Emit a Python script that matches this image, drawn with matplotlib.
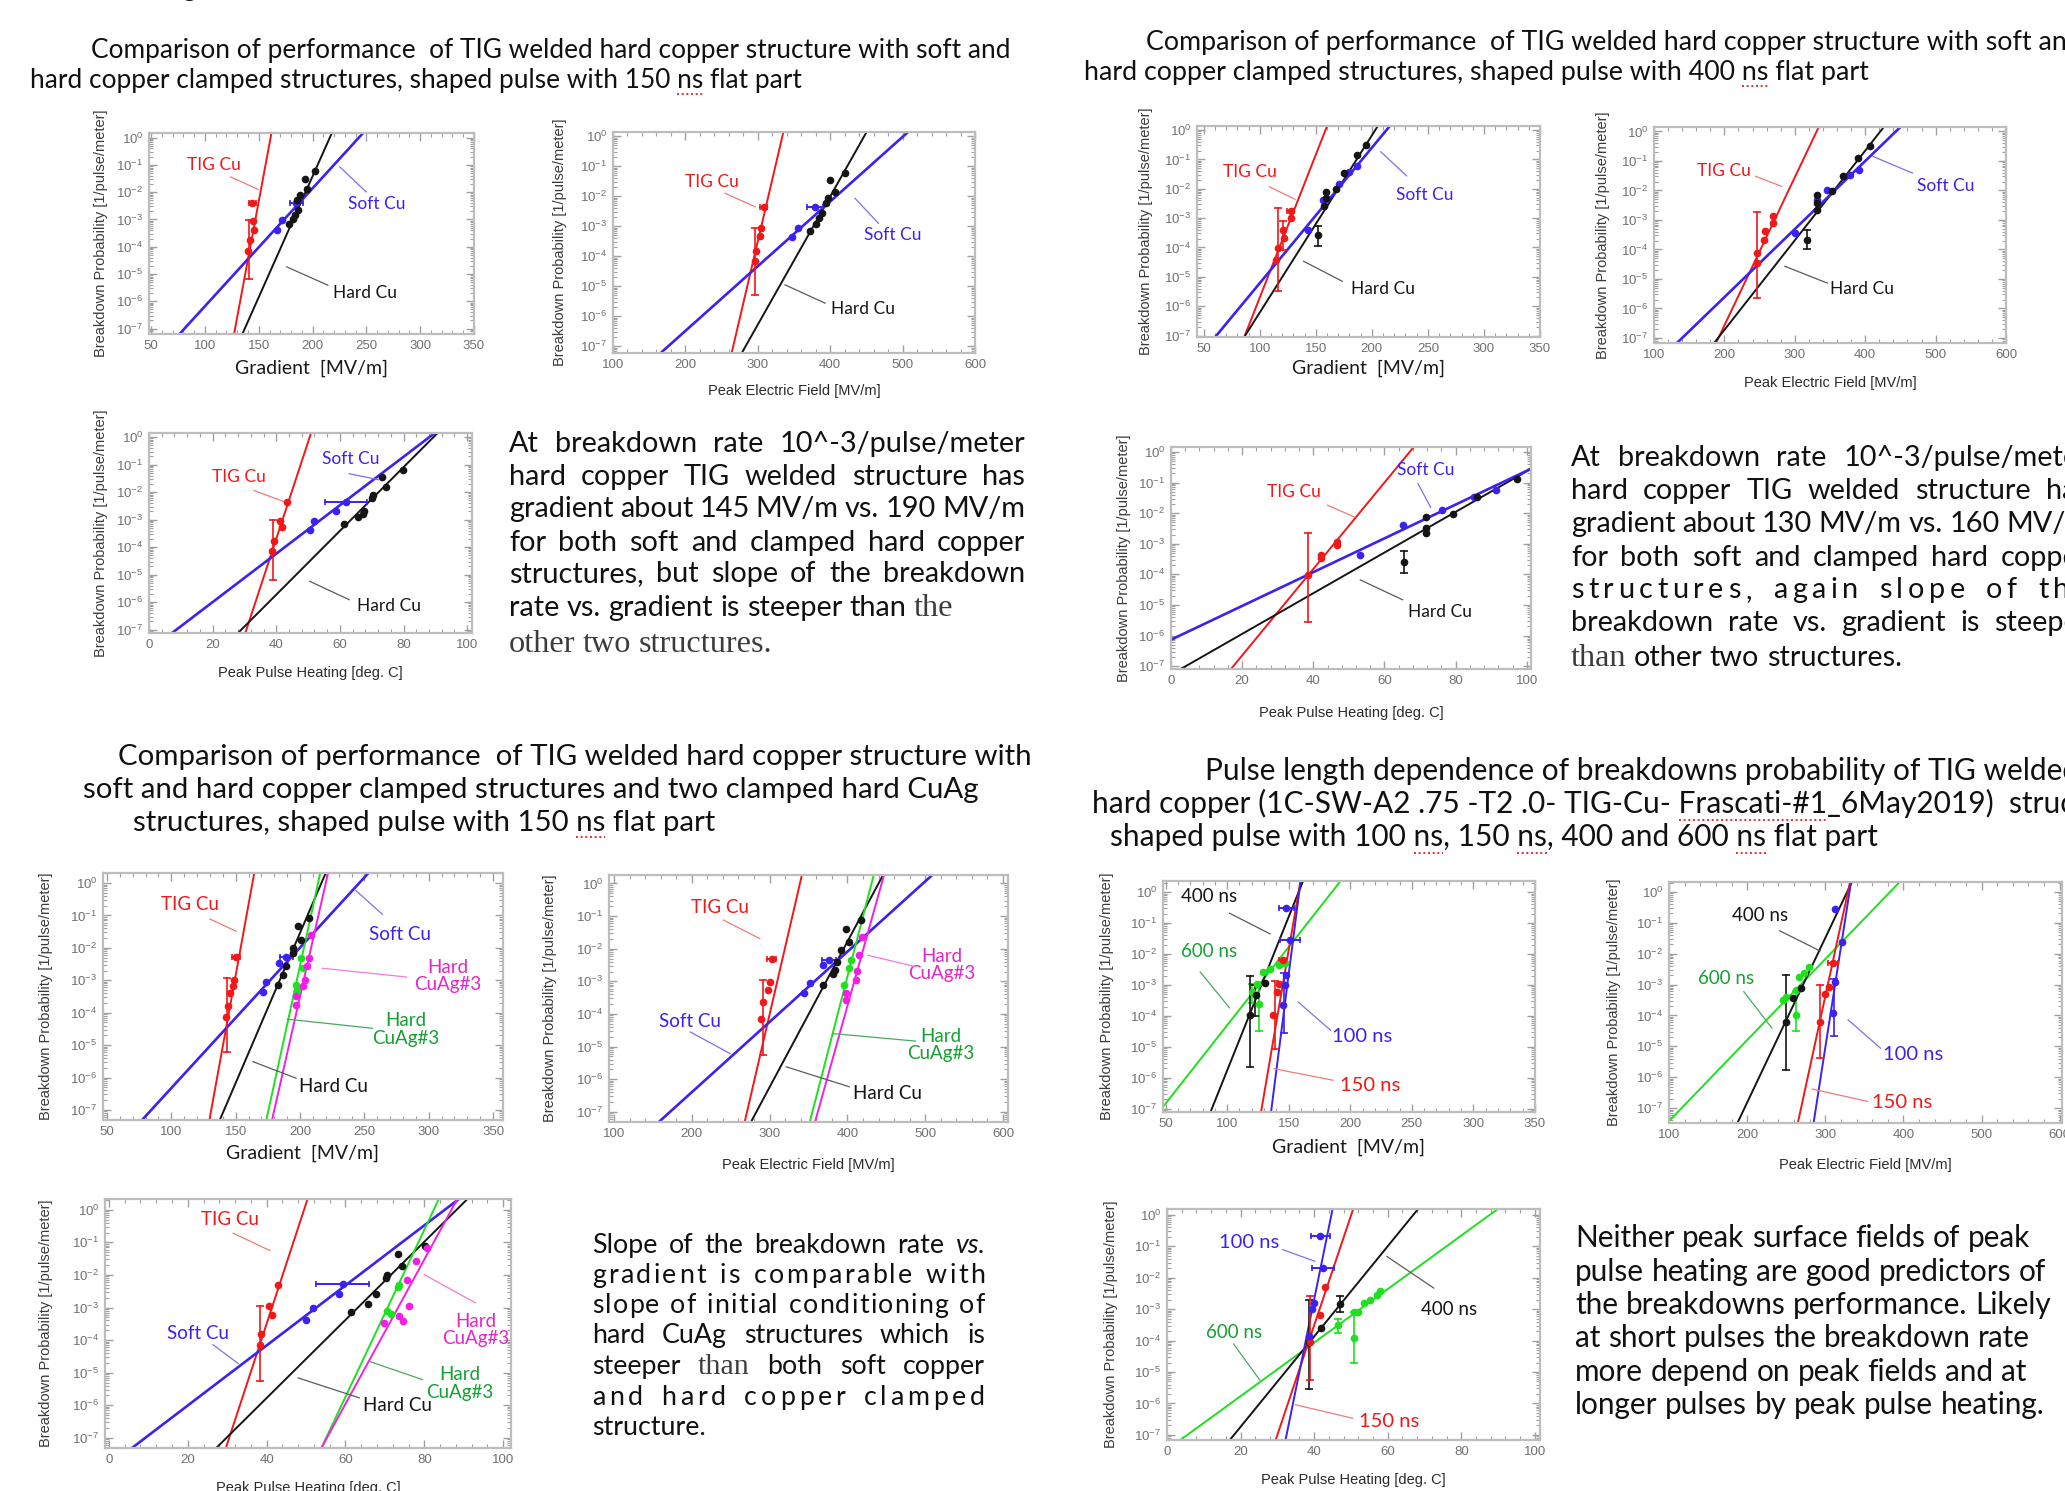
import numpy as np
import matplotlib
matplotlib.use("Agg")
import matplotlib.pyplot as plt
from matplotlib.lines import Line2D
from matplotlib.ticker import AutoMinorLocator, FixedLocator, LogLocator, NullFormatter

W, H = 2065, 1491
SANS = "Lato"
AXF = "Liberation Sans"
SERIF = "Liberation Serif"

RED, BLUE, BLACK = "#f01818", "#3b22f0", "#151515"
GREEN, GREEN_T = "#1ee01e", "#14a032"
MAG, MAG_T = "#f41ee6", "#e326c8"
LEAD = {RED: "#f07a7a", BLUE: "#7d70f0", BLACK: "#5a5a5a", GREEN_T: "#4aa860", MAG_T: "#f07ae0"}

# ------------------------------------------------------------------ data
# fit lines: (x where rate = 1e-7, x where rate = 1e0)
# points: x and log10(rate); ey = vertical bars (x, lo, hi); ex = horizontal bars (x, y, half width)

# 150 ns flat part
g150_fit = {"tig": (128, 161), "hard": (137, 216), "soft": (81, 243)}
g150_tig = dict(x=[144, 145, 146, 142, 140], y=[-2.38, -3.05, -3.37, -3.76, -4.15],
                ey=[(141, -3.03, -5.2)], ex=[(144, -2.38, 3)])
g150_soft = dict(x=[185, 172, 167], y=[-2.38, -3.03, -3.4], ex=[(185, -2.38, 6)])
g150_hard = dict(x=[202.5, 192.7, 194.5, 188.4, 185.3, 186.5, 184, 182.2, 177.9],
                 y=[-1.23, -1.5, -1.87, -2.11, -2.3, -2.66, -2.84, -3.0, -3.17])

e150_fit = {"tig": (266, 334), "hard": (283, 447), "soft": (176, 501)}
e150_tig = dict(x=[308, 305, 303, 298, 296], y=[-2.35, -3.07, -3.34, -3.81, -4.17],
                ey=[(296, -3.07, -5.28)], ex=[(308, -2.35, 5)])
e150_soft = dict(x=[379, 356, 347], y=[-2.37, -3.07, -3.37], ex=[(379, -2.37, 11)])
e150_hard = dict(x=[420, 400, 406, 397, 394, 388, 385, 381, 372],
                 y=[-1.22, -1.46, -1.85, -2.07, -2.24, -2.57, -2.74, -2.92, -3.15])

h150_fit = {"tig": (30.6, 50.5), "hard": (29, 89.4), "soft": (8.6, 88.1)}
h150_tig = dict(x=[43.3, 41.3, 41.8, 39.2, 38.8], y=[-2.34, -3.06, -3.28, -3.79, -4.15],
                ey=[(39, -3.03, -5.18)])
h150_soft = dict(x=[61.9, 58.8, 52, 50.5], y=[-2.34, -2.68, -3.06, -3.37], ex=[(61.9, -2.34, 6.7)])
h150_hard = dict(x=[79.9, 73.2, 74.6, 70.5, 70.1, 67.6, 67.4, 65.6, 61.4],
                 y=[-1.21, -1.46, -1.82, -2.09, -2.22, -2.70, -2.78, -2.91, -3.15])

# 400 ns flat part
g400_fit = {"tig": (86.7, 158.6), "hard": (87, 203), "soft": (61.3, 213)}
g400_tig = dict(x=[127.6, 127.6, 120.7, 121.8, 116, 114.4], y=[-2.77, -3.0, -3.4, -3.68, -4.02, -4.42],
                ey=[(116, -2.66, -5.49), (121, -3.1, -4.1)], ex=[(127.6, -2.77, 3)])
g400_soft = dict(x=[186.8, 179.3, 170.7, 156.3, 143.1], y=[-1.21, -1.42, -1.83, -2.38, -3.4])
g400_hard = dict(x=[194.8, 186.8, 175.3, 167.8, 159.2, 159.2, 157.5, 151.7],
                 y=[-0.51, -0.85, -1.47, -2.0, -2.1, -2.32, -2.6, -3.59], ey=[(151.7, -3.28, -3.96)])

e400_fit = {"tig": (191.5, 331), "hard": (191, 421.5), "soft": (140, 443.5)}
e400_tig = dict(x=[269, 269, 258, 256, 247, 247], y=[-2.86, -3.1, -3.39, -3.67, -4.12, -4.45],
                ey=[(247, -2.72, -5.66)])
e400_soft = dict(x=[391, 379, 346, 332, 300], y=[-1.30, -1.47, -1.98, -2.31, -3.44])
e400_hard = dict(x=[407, 390, 368, 353, 332, 332, 332, 318],
                 y=[-0.51, -0.9, -1.52, -2.03, -2.14, -2.43, -2.67, -3.67], ey=[(318, -3.33, -4.0)])

h400_fit = {"tig": (17.5, 67.1), "hard": (4.1, 109.5), "soft": (-15.7, 111.2)}
h400_tig = dict(x=[46.8, 46.8, 42.2, 42.2, 38.5], y=[-2.93, -3.04, -3.37, -3.48, -4.02],
                ey=[(38.5, -2.66, -5.54)])
h400_soft = dict(x=[91.4, 85.3, 76.2, 65.1, 53.2], y=[-1.25, -1.47, -1.9, -2.39, -3.37])
h400_hard = dict(x=[97.3, 85.9, 79.3, 71.6, 71.6, 71.6, 65.5],
                 y=[-0.87, -1.47, -2.03, -2.12, -2.5, -2.66, -3.6], ey=[(65.5, -3.25, -3.96)])

# 150 ns flat part with the CuAg structures
g3_fit = {"tig": (131, 163), "hard": (141, 216.6), "soft": (84.4, 246), "agg": (175.5, 214), "agm": (180, 220)}
g3_tig = dict(x=[150.5, 149, 148, 145.4, 144.3, 142.8], y=[-2.29, -2.99, -3.19, -3.40, -3.78, -4.12],
              ey=[(143, -2.94, -5.2)], ex=[(150.5, -2.29, 3)])
g3_soft = dict(x=[189.2, 184, 173.7, 171], y=[-2.29, -2.47, -3.06, -3.35], ex=[(189.2, -2.29, 5)])
g3_hard = dict(x=[207.2, 198.5, 200.5, 194.3, 194.3, 189.2, 187.1, 183],
               y=[-1.08, -1.34, -1.75, -2.01, -2.16, -2.57, -2.83, -3.14])
g3_agg = dict(x=[200.5, 202, 196.9, 198], y=[-2.32, -2.63, -3.14, -3.3])
g3_agm = dict(x=[208.8, 207.2, 205.7, 203.6, 202, 196.9, 196.9], y=[-1.6, -2.32, -2.57, -2.99, -3.19, -3.5, -3.76])

e3_fit = {"tig": (271, 339), "hard": (283, 440), "soft": (172, 497), "agg": (355, 431), "agm": (362, 444)}
e3_tig = dict(x=[302.7, 300.2, 298.5, 291.7, 289.1], y=[-2.30, -3.01, -3.25, -3.63, -4.14],
              ey=[(292, -2.96, -5.26)], ex=[(302.7, -2.30, 6)])
e3_soft = dict(x=[376.8, 368.3, 351.3, 344.5], y=[-2.33, -2.5, -3.06, -3.37], ex=[(376.8, -2.33, 9)])
e3_hard = dict(x=[417.7, 398.1, 402.4, 392.2, 387.1, 383.6, 381, 368.3],
               y=[-1.12, -1.41, -1.79, -2.04, -2.4, -2.64, -2.76, -3.12])
e3_agg = dict(x=[404, 402.4, 395.6], y=[-2.33, -2.6, -3.12])
e3_agm = dict(x=[419.4, 415.2, 412.6, 410.9, 398.1, 398.1], y=[-1.63, -2.2, -2.68, -2.96, -3.37, -3.58])

h3_fit = {"tig": (30.5, 49.5), "hard": (29.8, 88.2), "soft": (9.2, 85.2), "agg": (55.1, 82.4), "agm": (55.3, 86.9)}
h3_tig = dict(x=[42.8, 40.7, 41.3, 38.6, 38.2], y=[-2.30, -2.96, -3.22, -3.80, -4.14], ey=[(38.2, -2.94, -5.26)])
h3_soft = dict(x=[59.3, 58.4, 51.7, 50], y=[-2.27, -2.6, -3.01, -3.37], ex=[(59.3, -2.27, 6.7)])
h3_hard = dict(x=[80.3, 73.3, 74.4, 70.6, 70.3, 67.7, 65.7, 61.3],
               y=[-1.10, -1.35, -1.74, -2.01, -2.09, -2.6, -2.88, -3.14])
h3_agg = dict(x=[73.6, 73.3, 70.6, 71.6], y=[-2.30, -2.36, -3.12, -3.19])
h3_agm = dict(x=[80.7, 77.8, 75.6, 76.1, 73.6, 69.9, 74.5], y=[-1.16, -1.58, -2.14, -2.96, -3.27, -3.47, -3.42])

# pulse length dependence, TIG welded structure
g4_fit = {"n600": (46.8, 185), "n400": (87.6, 158), "n150": (128, 158), "n100": (136, 158.5)}
g4_n100 = dict(x=[148.1, 150.8, 147.6, 146.6, 145.5], y=[-0.52, -1.56, -2.69, -3.01, -3.66],
               ey=[(146, -2.62, -4.56)], ex=[(148.1, -0.52, 6), (150.8, -1.56, 8)])
g4_n150 = dict(x=[145.5, 142.4, 140.2, 137.1], y=[-2.19, -2.96, -3.23, -3.98],
               ey=[(139, -2.88, -5.08)], ex=[(145.5, -2.19, 3)])
g4_n400 = dict(x=[131.1, 123.1, 118.9], y=[-2.94, -3.34, -3.98], ey=[(118.9, -2.7, -5.65), (123, -3.0, -4.0)])
g4_n600 = dict(x=[147, 141.7, 134.5, 129.2, 124.2, 120.5, 125.8], y=[-2.29, -2.35, -2.48, -2.59, -2.96, -3.23, -3.61],
               ey=[(126, -3.0, -4.5), (120.5, -2.96, -3.6)])

e4_fit = {"n600": (116, 383), "n400": (196.6, 328), "n150": (269, 329), "n100": (288, 331)}
e4_n100 = dict(x=[312.5, 320.8, 312.5, 310], y=[-0.57, -1.61, -2.91, -3.93], ey=[(311, -2.83, -4.66)])
e4_n150 = dict(x=[310, 304.2, 300, 293.3], y=[-2.31, -3.07, -3.29, -4.20],
               ey=[(293, -3.02, -5.39)], ex=[(310, -2.31, 6)])
e4_n400 = dict(x=[269.2, 258.3, 250], y=[-3.12, -3.44, -4.20], ey=[(250, -2.69, -5.76)])
e4_n600 = dict(x=[279.2, 273, 266.7, 262.5, 250, 245.8, 262.5], y=[-2.44, -2.64, -2.77, -3.18, -3.39, -3.5, -3.98],
               ey=[(262.5, -3.2, -4.5)])

h4_fit = {"n600": (5.5, 87.8), "n400": (18.2, 67), "n150": (30, 50.1), "n100": (32.5, 44.7)}
h4_n100 = dict(x=[41.7, 42.4, 39.9, 39.4, 38.5], y=[-0.67, -1.70, -2.81, -3.0, -3.85],
               ex=[(41.7, -0.67, 2.5), (42.4, -1.70, 3)])
h4_n150 = dict(x=[42.9, 41.7, 38.8], y=[-2.31, -3.18, -4.06], ey=[(38.8, -2.60, -5.25)])
h4_n400 = dict(x=[47, 42, 38.5], y=[-2.83, -3.61, -4.06], ey=[(38.5, -2.71, -5.55), (47, -2.6, -3.1)])
h4_n600 = dict(x=[58, 57.1, 55.3, 53.5, 51.8, 50.9, 46.5, 50.9], y=[-2.44, -2.54, -2.70, -2.81, -3.08, -3.08, -3.5, -3.92],
               ey=[(50.9, -3.08, -4.71), (46.5, -3.3, -3.75)])

# texts
title_150 = ["Comparison of performance  of TIG welded hard copper structure with soft and",
             "hard copper clamped structures, shaped pulse with 150 ns flat part"]
title_400 = ["Comparison of performance  of TIG welded hard copper structure with soft and",
             "hard copper clamped structures, shaped pulse with 400 ns flat part"]
title_cuag = ["Comparison of performance  of TIG welded hard copper structure with",
              "soft and hard copper clamped structures and two clamped hard CuAg",
              "structures, shaped pulse with 150 ns flat part"]
title_pulse = ["Pulse length dependence of breakdowns probability of TIG welded",
               "hard copper (1C-SW-A2 .75 -T2 .0- TIG-Cu- Frascati-#1_6May2019)  structure",
               "shaped pulse with 100 ns, 150 ns, 400 and 600 ns flat part"]

note_150 = ["At breakdown rate 10^-3/pulse/meter",
            "hard copper TIG welded structure has",
            "gradient about 145 MV/m vs. 190 MV/m",
            "for both soft and clamped hard copper",
            "structures, but slope of the breakdown",
            "rate vs. gradient is steeper than *the*",
            "*other* *two* *structures.*"]
note_400 = ["At breakdown rate 10^-3/pulse/meter",
            "hard copper TIG welded structure has",
            "gradient about 130 MV/m vs. 160 MV/m",
            "for both soft and clamped hard copper",
            "structures, again slope of the",
            "breakdown rate vs. gradient is steeper",
            "*than* other two structures."]
note_cuag = ["Slope of the breakdown rate _vs._",
             "gradient is comparable with",
             "slope of initial conditioning of",
             "hard CuAg structures which is",
             "steeper *than* both soft copper",
             "and hard copper clamped",
             "structure."]
note_pulse = ["Neither peak surface fields of peak",
              "pulse heating  are good predictors of",
              "the breakdowns performance. Likely",
              "at short pulses the breakdown rate",
              "more depend on peak fields and at",
              "longer pulses by peak pulse heating."]

# ------------------------------------------------------------------ figure
plt.rcParams["font.family"] = AXF
fig = plt.figure(figsize=(W / 100, H / 100), dpi=100)
fig.patch.set_facecolor("white")
R = fig.canvas.get_renderer()


def measure(s, size, family=SANS, style="normal"):
    t = fig.text(0, 0, s, fontsize=size, family=family, style=style)
    w = t.get_window_extent(renderer=R).width
    t.remove()
    return w


def advance(s, size, family=SANS, style="normal"):
    return measure("H" + s + "H", size, family, style) - measure("HH", size, family, style)


def fit_size(s, width, family=SANS):
    return 20 * width / measure(s, 20, family)


def title(lines, xs, ys, sizes, marks):
    for s, x, y, size in zip(lines, xs, ys, sizes):
        px = size * 100 / 72
        fig.text(x / W, 1 - (y + 0.3 * px) / H, s, fontsize=size, family=SANS,
                 color="#111111", va="baseline", ha="left")
    # red dotted spell-check marks
    for li, word in marks:
        s, size = lines[li], sizes[li]
        px = size * 100 / 72
        i = 0
        while True:
            i = s.find(word, i)
            if i < 0:
                break
            end = i + len(word)
            whole = (i == 0 or s[i - 1] == " ") and (end == len(s) or not s[end].isalpha())
            if whole:
                ww = measure(word, size)
                xa = xs[li] + measure(s[:end], size) - ww
                yy = 1 - (ys[li] + 0.52 * px) / H
                fig.add_artist(Line2D([xa / W, (xa + ww) / W], [yy, yy], transform=fig.transFigure,
                                      color="#e03030", lw=1.4, ls=(0, (1, 1.4))))
            i = end


def paragraph(lines, x0, x1, ys, size, modes):
    px = size * 100 / 72
    sp = advance(" ", size)
    for line, y, mode in zip(lines, ys, modes):
        items = []
        for w in line.split():
            fam, style, sc, col = SANS, "normal", 1.0, "#111111"
            if w.startswith("*"):
                w, fam, sc, col = w.strip("*"), SERIF, 1.12, "#3c3c3c"
            elif w.startswith("_"):
                w, style = w.strip("_"), "italic"
            items.append((w, fam, style, size * sc, col))
        advs = [advance(w, s, f, st) for w, f, st, s, c in items]
        extra = 0.0
        gap = sp
        if mode == "j" and len(items) > 1:
            gap = max((x1 - x0 - sum(advs)) / (len(items) - 1), 0.55 * sp)
        elif mode == "l":
            slots = sum(len(it[0]) - 1 for it in items) + 3 * (len(items) - 1)
            extra = (x1 - x0 - sum(advs) - sp * (len(items) - 1)) / slots
            gap = sp + 3 * extra
        base = 1 - (y + 0.3 * px) / H
        x = x0
        for (w, f, st, s, c), a in zip(items, advs):
            if extra == 0:
                fig.text(x / W, base, w, fontsize=s, family=f, style=st, color=c, va="baseline")
                x += a + gap
            else:
                for ch in w:
                    fig.text(x / W, base, ch, fontsize=s, family=f, style=st, color=c, va="baseline")
                    x += advance(ch, s, f, st) + extra
                x += gap - extra


def panel(box, xlim, yexp, xticks, xlabel, ylab_x, xlab_y, big):
    l, t, r, b = box
    ax = fig.add_axes([l / W, 1 - b / H, (r - l) / W, (b - t) / H])
    ax.set_yscale("log")
    ax.set_xlim(xlim)
    ax.set_ylim(10.0 ** yexp[0], 10.0 ** yexp[1])
    ax.set_xticks(xticks)
    ax.xaxis.set_minor_locator(AutoMinorLocator(5))
    ax.yaxis.set_major_locator(FixedLocator([10.0 ** k for k in range(-7, 1)]))
    ax.yaxis.set_minor_locator(LogLocator(base=10, subs=np.arange(2, 10), numticks=30))
    ax.yaxis.set_minor_formatter(NullFormatter())
    ax.tick_params(which="both", direction="in", top=True, right=True, color="#a0a0a0",
                   labelcolor="#707070", labelsize=9.5, pad=4)
    ax.tick_params(which="major", length=6, width=1)
    ax.tick_params(which="minor", length=3, width=0.8)
    for s in ax.spines.values():
        s.set_color("#bdbdbd")
        s.set_linewidth(1.6)
    if big:
        ax.set_xlabel(xlabel, fontsize=14, family=SANS, color="#1a1a1a")
    else:
        ax.set_xlabel(xlabel, fontsize=10.5, family=AXF, color="#2a2a2a")
    ax.xaxis.label.set_va("center")
    ax.xaxis.set_label_coords(0.5, -(xlab_y - b) / (b - t))
    ax.set_ylabel("Breakdown Probability [1/pulse/meter]", fontsize=10.5, family=AXF, color="#3a3a3a")
    ax.yaxis.label.set_va("center")
    ax.yaxis.set_label_coords(-(l - ylab_x) / (r - l), 0.5)
    return ax


def fit(ax, f, color, lw=1.4):
    x7, x0 = f
    xs = np.array(ax.get_xlim())
    e = -7 + 7 * (xs - x7) / (x0 - x7)
    ax.plot(xs, 10.0 ** e, color=color, lw=lw, zorder=2)


def dots(ax, s, color):
    for x, lo, hi in s.get("ey", []):
        ax.plot([x, x], [10.0 ** lo, 10.0 ** hi], color=color, lw=1.2, marker="_", ms=6, mew=1.2, zorder=3)
    for x, y, dx in s.get("ex", []):
        ax.plot([x - dx, x + dx], [10.0 ** y] * 2, color=color, lw=1.4, marker="|", ms=5, mew=1.2, zorder=3)
    ax.plot(s["x"], 10.0 ** np.array(s["y"]), "o", color=color, ms=4.5, zorder=4)


def tag(ax, s, pos, lead, color, size=12.5):
    ax.text(pos[0], 10.0 ** pos[1], s, color=color, fontsize=size, family=SANS,
            ha="center", va="center", linespacing=1.05, zorder=5)
    (x1, y1), (x2, y2) = lead
    ax.plot([x1, x2], [10.0 ** y1, 10.0 ** y2], color=LEAD[color], lw=0.9, zorder=5)


GRAD_T = range(50, 351, 50)
FIELD_T = range(100, 601, 100)
HEAT_T = range(0, 101, 20)

# ---------------- quadrant 1 : 150 ns
s1 = fit_size(title_150[0], 917)
title(title_150, [91, 30], [50, 80], [s1, s1], [(1, "ns")])
# descender of a line from the page above, cut by the top edge
fig.text(182 / W, 1 + 4 / H, "g", fontsize=s1, family=SANS, color="#111111", va="baseline")

ax = panel((149, 133, 474, 334), (48, 348), (-7.2, 0.17), GRAD_T, "Gradient  [MV/m]", 101, 368, True)
fit(ax, g150_fit["tig"], RED); fit(ax, g150_fit["hard"], BLACK); fit(ax, g150_fit["soft"], BLUE, 1.9)
dots(ax, g150_tig, RED); dots(ax, g150_soft, BLUE); dots(ax, g150_hard, BLACK)
tag(ax, "TIG Cu", (108, -1.01), [(123.8, -1.44), (149.6, -1.90)], RED)
tag(ax, "Soft Cu", (260, -2.42), [(225.2, -1.07), (249.8, -1.99)], BLUE)
tag(ax, "Hard Cu", (248.6, -5.68), [(176, -4.74), (214.2, -5.41)], BLACK)

ax = panel((613, 132, 975, 353), (100, 600), (-7.22, 0.14), FIELD_T, "Peak Electric Field [MV/m]", 560, 391, False)
fit(ax, e150_fit["tig"], RED); fit(ax, e150_fit["hard"], BLACK); fit(ax, e150_fit["soft"], BLUE, 1.9)
dots(ax, e150_tig, RED); dots(ax, e150_soft, BLUE); dots(ax, e150_hard, BLACK)
tag(ax, "TIG Cu", (236, -1.52), [(254.7, -1.90), (296.2, -2.35)], RED)
tag(ax, "Soft Cu", (487, -3.29), [(434.3, -2.07), (466.6, -2.90)], BLUE)
tag(ax, "Hard Cu", (445, -5.76), [(337.6, -4.95), (392.9, -5.56)], BLACK)

ax = panel((149, 433, 472, 633), (0.9, 101.5), (-7.12, 0.15), HEAT_T, "Peak Pulse Heating [deg. C]", 101, 673, False)
fit(ax, h150_fit["tig"], RED); fit(ax, h150_fit["hard"], BLACK); fit(ax, h150_fit["soft"], BLUE, 1.9)
dots(ax, h150_tig, RED); dots(ax, h150_soft, BLUE); dots(ax, h150_hard, BLACK)
tag(ax, "TIG Cu", (28.2, -1.46), [(33, -1.94), (42.3, -2.34)], RED)
tag(ax, "Soft Cu", (63.5, -0.8), [(62.9, -1.33), (72.2, -1.55)], BLUE)
tag(ax, "Hard Cu", (75.3, -6.15), [(50.5, -5.24), (62.9, -5.91)], BLACK)

size_q1 = 0.5 * (fit_size("rate vs. gradient is steeper than", 413)
                 + fit_size("gradient about 145 MV/m vs. 190 MV/m", 505))
paragraph(note_150, 509, 1025, [443, 476, 508, 542, 573, 607, 643], size_q1, "jjjjj--")

# ---------------- quadrant 2 : 400 ns
s2 = fit_size(title_400[1], 786)
title(title_400, [1146, 1084], [42, 72], [s2, s2], [(1, "ns")])

ax = panel((1197, 126, 1540, 337), (44, 346), (-7.05, 0.14), GRAD_T, "Gradient  [MV/m]", 1146, 368, True)
fit(ax, g400_fit["tig"], RED); fit(ax, g400_fit["hard"], BLACK); fit(ax, g400_fit["soft"], BLUE, 1.9)
dots(ax, g400_tig, RED); dots(ax, g400_soft, BLUE); dots(ax, g400_hard, BLACK)
tag(ax, "TIG Cu", (91.4, -1.42), [(108.6, -1.93), (131.6, -2.36)], RED)
tag(ax, "Soft Cu", (247, -2.21), [(208, -0.74), (231, -1.56)], BLUE)
tag(ax, "Hard Cu", (209.8, -5.41), [(139.1, -4.47), (173.6, -5.15)], BLACK)

ax = panel((1654, 127, 2006, 343), (100, 600), (-7.17, 0.15), FIELD_T, "Peak Electric Field [MV/m]", 1603, 383, False)
fit(ax, e400_fit["tig"], RED); fit(ax, e400_fit["hard"], BLACK); fit(ax, e400_fit["soft"], BLUE, 1.9)
dots(ax, e400_tig, RED); dots(ax, e400_soft, BLUE); dots(ax, e400_hard, BLACK)
tag(ax, "TIG Cu", (199.4, -1.35), [(244, -1.52), (281.2, -1.86)], RED)
tag(ax, "Soft Cu", (515, -1.86), [(411.2, -0.85), (467, -1.41)], BLUE)
tag(ax, "Hard Cu", (395.4, -5.34), [(285.8, -4.57), (346.2, -5.14)], BLACK)

ax = panel((1171, 447, 1531, 669), (0, 101.2), (-7.09, 0.16), HEAT_T, "Peak Pulse Heating [deg. C]", 1124, 713, False)
fit(ax, h400_fit["tig"], RED); fit(ax, h400_fit["hard"], BLACK); fit(ax, h400_fit["soft"], BLUE, 1.9)
dots(ax, h400_tig, RED); dots(ax, h400_soft, BLUE); dots(ax, h400_hard, BLACK)
tag(ax, "TIG Cu", (34.5, -1.32), [(44, -1.74), (51.4, -2.12)], RED)
tag(ax, "Soft Cu", (71.6, -0.6), [(69.4, -1.03), (73, -1.81)], BLUE)
tag(ax, "Hard Cu", (75.6, -5.23), [(53.2, -4.18), (65.1, -4.83)], BLACK)

paragraph(note_400, 1571, 2089, [457, 490, 523, 557, 589, 622, 657], size_q1, "jjjjlj-")

# ---------------- quadrant 3 : CuAg comparison
s3 = fit_size(title_cuag[0], 913)
title(title_cuag, [118, 83, 133], [756, 789, 822], [s3] * 3, [(2, "ns")])

ax = panel((103, 873, 503, 1120), (46.9, 357.7), (-7.31, 0.31), GRAD_T, "Gradient  [MV/m]", 46, 1153, True)
fit(ax, g3_fit["tig"], RED); fit(ax, g3_fit["hard"], BLACK); fit(ax, g3_fit["soft"], BLUE, 1.9)
fit(ax, g3_fit["agg"], GREEN); fit(ax, g3_fit["agm"], MAG)
dots(ax, g3_tig, RED); dots(ax, g3_soft, BLUE); dots(ax, g3_hard, BLACK)
dots(ax, g3_agg, GREEN); dots(ax, g3_agm, MAG)
tag(ax, "TIG Cu", (114.4, -0.65), [(129.9, -1.11), (150.5, -1.49)], RED, 13.5)
tag(ax, "Soft Cu", (277.9, -1.6), [(243.3, -0.23), (263.9, -0.96)], BLUE, 13.5)
tag(ax, "Hard\nCuAg#3", (314.5, -2.87), [(217.5, -2.63), (283, -2.9)], MAG_T, 13.5)
tag(ax, "Hard\nCuAg#3", (282, -4.52), [(190.2, -4.2), (256.2, -4.48)], GREEN_T, 13.5)
tag(ax, "Hard Cu", (226.3, -6.27), [(163.4, -5.51), (196.9, -6.02)], BLACK, 13.5)

ax = panel((609, 875, 1008, 1122), (93.6, 606.4), (-7.31, 0.26), FIELD_T, "Peak Electric Field [MV/m]", 550, 1165, False)
fit(ax, e3_fit["tig"], RED); fit(ax, e3_fit["hard"], BLACK); fit(ax, e3_fit["soft"], BLUE, 1.9)
fit(ax, e3_fit["agg"], GREEN); fit(ax, e3_fit["agm"], MAG)
dots(ax, e3_tig, RED); dots(ax, e3_soft, BLUE); dots(ax, e3_hard, BLACK)
dots(ax, e3_agg, GREEN); dots(ax, e3_agm, MAG)
tag(ax, "TIG Cu", (236.3, -0.75), [(240.5, -1.12), (287.4, -1.69)], RED, 13.5)
tag(ax, "Hard\nCuAg#3", (521.6, -2.5), [(426.2, -2.2), (487.6, -2.55)], MAG_T, 13.5)
tag(ax, "Soft Cu", (198, -4.24), [(198, -4.55), (249.1, -5.21)], BLUE, 13.5)
tag(ax, "Hard\nCuAg#3", (520, -4.95), [(381.1, -4.6), (487.6, -4.83)], GREEN_T, 13.5)
tag(ax, "Hard Cu", (451.8, -6.44), [(321.5, -5.62), (402.4, -6.23)], BLACK, 13.5)

ax = panel((105, 1199, 511, 1448), (-1, 102), (-7.31, 0.33), HEAT_T, "Peak Pulse Heating [deg. C]", 46, 1488, False)
fit(ax, h3_fit["tig"], RED); fit(ax, h3_fit["hard"], BLACK); fit(ax, h3_fit["soft"], BLUE, 1.9)
fit(ax, h3_fit["agg"], GREEN); fit(ax, h3_fit["agm"], MAG)
dots(ax, h3_tig, RED); dots(ax, h3_soft, BLUE); dots(ax, h3_hard, BLACK)
dots(ax, h3_agg, GREEN); dots(ax, h3_agm, MAG)
tag(ax, "TIG Cu", (30.6, -0.29), [(31.5, -0.72), (40.8, -1.25)], RED, 13.5)
tag(ax, "Soft Cu", (22.7, -3.81), [(26.4, -4.14), (32.8, -4.72)], BLUE, 13.5)
tag(ax, "Hard\nCuAg#3", (93, -3.69), [(80, -1.99), (93, -2.86)], MAG_T, 13.5)
tag(ax, "Hard\nCuAg#3", (89.1, -5.34), [(66, -4.65), (79.5, -5.21)], GREEN_T, 13.5)
tag(ax, "Hard Cu", (73.3, -6.01), [(48, -5.16), (63.5, -5.77)], BLACK, 13.5)

size_q3 = fit_size("structure.", 114)
paragraph(note_cuag, 592, 985, [1245, 1275, 1305, 1335, 1366, 1397, 1427], size_q3, "jlljjl-")

# ---------------- quadrant 4 : pulse length dependence
s4 = fit_size(title_pulse[2], 770)
title(title_pulse, [1205, 1092, 1110], [771, 804, 837], [s4] * 3,
      [(1, "Frascati-#1"), (2, "ns")])

ax = panel((1163, 881, 1535, 1112), (47.9, 350), (-7.11, 0.36), GRAD_T, "Gradient  [MV/m]", 1107, 1147, True)
fit(ax, g4_fit["n600"], GREEN); fit(ax, g4_fit["n400"], BLACK)
fit(ax, g4_fit["n150"], RED); fit(ax, g4_fit["n100"], BLUE)
dots(ax, g4_n600, GREEN); dots(ax, g4_n400, BLACK); dots(ax, g4_n150, RED); dots(ax, g4_n100, BLUE)
tag(ax, "400 ns", (85, -0.14), [(101.9, -0.68), (134.8, -1.35)], BLACK, 13.5)
tag(ax, "600 ns", (85, -1.92), [(78.1, -2.58), (101.9, -3.74)], GREEN_T, 13.5)
tag(ax, "100 ns", (209.5, -4.68), [(157.6, -3.55), (184.1, -4.47)], BLUE, 14.5)
tag(ax, "150 ns", (215.8, -6.24), [(138, -5.71), (185.7, -6.08)], RED, 14.5)

ax = panel((1669, 882, 2062, 1123), (100, 603), (-7.48, 0.32), FIELD_T, "Peak Electric Field [MV/m]", 1614, 1165, False)
fit(ax, e4_fit["n600"], GREEN); fit(ax, e4_fit["n400"], BLACK)
fit(ax, e4_fit["n150"], RED); fit(ax, e4_fit["n100"], BLUE)
dots(ax, e4_n600, GREEN); dots(ax, e4_n400, BLACK); dots(ax, e4_n150, RED); dots(ax, e4_n100, BLUE)
tag(ax, "400 ns", (216.7, -0.75), [(241.7, -1.26), (293.3, -1.91)], BLACK, 13.5)
tag(ax, "600 ns", (173.3, -2.8), [(195.8, -3.23), (231.7, -4.41)], GREEN_T, 13.5)
tag(ax, "100 ns", (412.5, -5.27), [(329.2, -4.14), (370.8, -5.06)], BLUE, 14.5)
tag(ax, "150 ns", (398.3, -6.83), [(283.3, -6.38), (354.2, -6.78)], RED, 14.5)

ax = panel((1167, 1209, 1540, 1440), (0.3, 101.4), (-7.16, 0.18), HEAT_T, "Peak Pulse Heating [deg. C]", 1111, 1480, False)
fit(ax, h4_fit["n600"], GREEN); fit(ax, h4_fit["n400"], BLACK)
fit(ax, h4_fit["n150"], RED); fit(ax, h4_fit["n100"], BLUE)
dots(ax, h4_n600, GREEN); dots(ax, h4_n400, BLACK); dots(ax, h4_n150, RED); dots(ax, h4_n100, BLUE)
tag(ax, "100 ns", (22.2, -0.9), [(31.4, -1.11), (40.2, -1.48)], BLUE, 14.5)
tag(ax, "400 ns", (76.6, -3.02), [(59.8, -1.33), (72.5, -2.33)], BLACK, 13.5)
tag(ax, "600 ns", (18.1, -3.76), [(18.1, -4.11), (25.2, -5.25)], GREEN_T, 13.5)
tag(ax, "150 ns", (60.3, -6.57), [(34.9, -6.04), (50.5, -6.47)], RED, 14.5)

size_q4 = fit_size("Neither peak surface fields of peak", 456)
paragraph(note_pulse, 1575, 2060, [1238, 1272, 1305, 1338, 1372, 1405], size_q4, "------")

fig.savefig("out.png", dpi=100)
